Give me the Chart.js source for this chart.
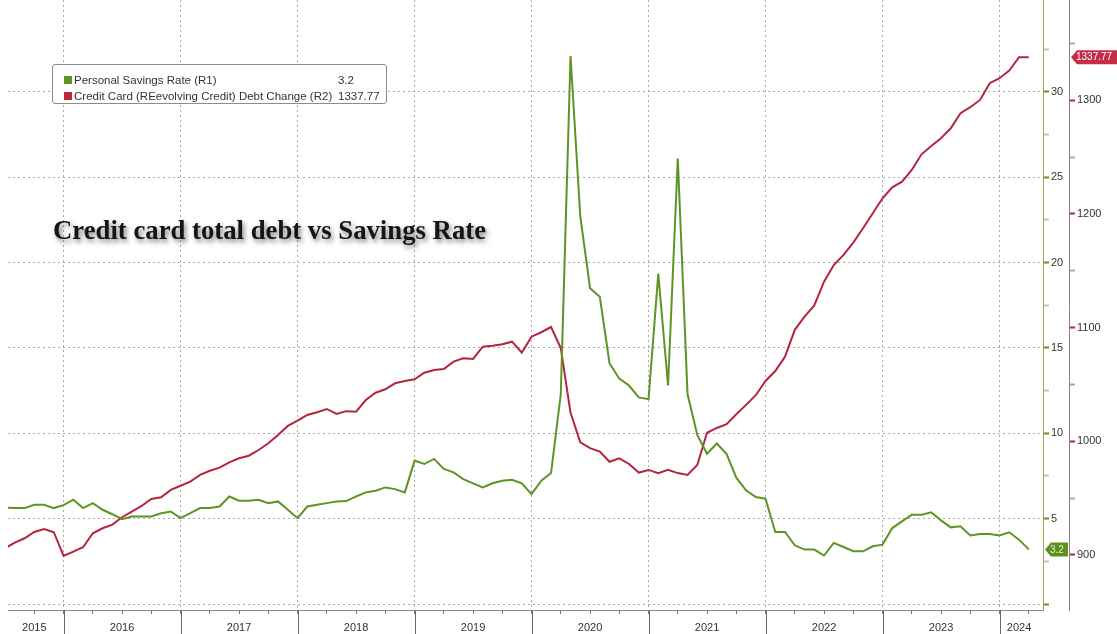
<!DOCTYPE html>
<html>
<head>
<meta charset="utf-8">
<script src="https://cdn.jsdelivr.net/npm/chart.js@4.4.1/dist/chart.umd.min.js"></script>
<style>
html,body{margin:0;padding:0;background:#fff}
#wrap{position:relative;width:1117px;height:634px;overflow:hidden}
#chart{position:absolute;left:0;top:0}
#title{position:absolute;left:53px;top:215px;font:bold 27px "Liberation Serif",serif;color:#151515;text-shadow:2px 3px 5px rgba(0,0,0,.5);white-space:nowrap;transform-origin:0 0}
#legend{position:absolute;left:52px;top:64px;width:333px;height:38px;border:1px solid #8c8c8c;border-radius:3px;background:#fff;font:11.5px "Liberation Sans",sans-serif;color:#333}
.row{position:absolute;left:0;height:14px;line-height:14px;white-space:nowrap}
.sw{position:absolute;left:11px;top:3px;width:8px;height:8px}
.lab{position:absolute;left:21px}
.val{position:absolute;left:285px}
</style>
</head>
<body>
<div id="wrap">
  <canvas id="chart" width="1117" height="634"></canvas>
  <div id="title">Credit card total debt vs Savings Rate</div>
  <div id="legend">
    <div class="row" style="top:8px"><span class="sw" style="background:#5f9424"></span><span class="lab">Personal Savings Rate (R1)</span><span class="val" id="v1"></span></div>
    <div class="row" style="top:24px"><span class="sw" style="background:#c0263f"></span><span class="lab">Credit Card (REevolving Credit) Debt Change (R2)</span><span class="val" id="v2"></span></div>
  </div>
</div>
<script>
// months after Jan 2015 of the first plotted point (month-end plotting)
const startMonth = 6

// Personal Savings Rate, % (R1)
const savingsRate = [
  5.65, 5.62, 5.62, 5.81, 5.81, 5.62,
  5.79, 6.11, 5.62, 5.91, 5.52, 5.26, 4.97, 5.13, 5.13, 5.13, 5.32, 5.42,
  5.03, 5.32, 5.62, 5.62, 5.71, 6.30, 6.05, 6.05, 6.11, 5.91, 6.01, 5.52,
  5.03, 5.71, 5.81, 5.91, 6.01, 6.03, 6.30, 6.54, 6.64, 6.83, 6.73, 6.54,
  8.40, 8.20, 8.50, 7.91, 7.71, 7.32, 7.07, 6.83, 7.07, 7.22, 7.28, 7.07,
  6.44, 7.22, 7.67, 12.3, 32.1, 22.7, 18.5, 18.0, 14.1, 13.2, 12.8, 12.1,
  12.0, 19.35, 12.8, 26.1, 12.3, 9.9, 8.8, 9.4, 8.8, 7.4, 6.66, 6.27,
  6.17, 4.22, 4.22, 3.44, 3.19, 3.19, 2.84, 3.58, 3.34, 3.09, 3.09, 3.38,
  3.48, 4.45, 4.84, 5.23, 5.23, 5.37, 4.90, 4.49, 4.55, 4.02, 4.10, 4.10,
  4.01, 4.20, 3.77, 3.2
]

// Credit card (revolving credit) debt, $bn (R2)
const revolvingCredit = [
  906, 910.8, 914.7, 920.2, 922.9, 920,
  899.1, 902.9, 906.8, 919.1, 923.5, 926.7, 933.2, 938.1, 943.1, 949.3, 950.7, 957.2,
  960.9, 964.5, 970.4, 974.1, 976.8, 981.5, 985, 987.3, 992.3, 998.2, 1005.5, 1013.5,
  1018.1, 1023.1, 1025.5, 1028.4, 1024, 1026.5, 1026, 1036.3, 1042.7, 1045.7, 1051, 1053,
  1054.5, 1060.3, 1062.7, 1063.6, 1070, 1073, 1072.4, 1083.2, 1084, 1085.3, 1087.6, 1078,
  1092, 1095.9, 1100.5, 1082, 1025, 999, 994, 990.9, 982, 985, 980, 972.5,
  974.8, 972, 974.8, 972, 970.4, 979.2, 1007.5, 1011.7, 1015, 1023.8, 1032, 1040.5,
  1053, 1061.8, 1074.4, 1098, 1109.6, 1119.5, 1140.4, 1155, 1163.9, 1174.7, 1187.3, 1200.5,
  1213.7, 1223.4, 1228.3, 1238.6, 1252.4, 1259.7, 1266.5, 1275.3, 1288.5, 1293.8, 1300.2, 1314.9,
  1319.3, 1326, 1337.77, 1337.77
]

const yearLabels = ['2015','2016','2017','2018','2019','2020','2021','2022','2023','2024']
const yearLabelAt = [9, 18, 30, 42, 54, 66, 78, 90, 102, 110]
const yearBoundaries = [12, 24, 36, 48, 60, 72, 84, 96, 108]
const quarterTicks = [9, 12, 15, 18, 21, 24, 27, 30, 33, 36, 39, 42, 45, 48, 51, 54, 57, 60, 63, 66, 69, 72, 75, 78, 81, 84, 87, 90, 93, 96, 99, 102, 105, 108, 110, 111]
const savingsTicks = [0, 2.5, 5, 7.5, 10, 12.5, 15, 17.5, 20, 22.5, 25, 27.5, 30, 32.5]
const creditTicks = [900, 950, 1000, 1050, 1100, 1150, 1200, 1250, 1300, 1350]

const GREEN = '#5f9424'
const RED = '#b3263f'
const GRID = '#a9a9a9'

const lastSav = savingsRate[savingsRate.length-1]
const lastCred = revolvingCredit[revolvingCredit.length-1]
document.getElementById('v1').textContent = String(lastSav)
document.getElementById('v2').textContent = lastCred.toFixed(2)

const toPoints = arr => arr.map((v,i) => ({x: startMonth + i, y: v}))
const setTicks = list => s => { s.ticks = list.map(v => ({value: v})) }

const yearSeparators = {
	id: 'yearSeparators',
	afterDraw(chart){
		const s = chart.scales.x, ctx = chart.ctx
		ctx.save(); ctx.strokeStyle = '#6a6a6a'; ctx.lineWidth = 1
		yearBoundaries.forEach(b => {
			const px = Math.round(s.getPixelForValue(b)) + 0.5
			ctx.beginPath(); ctx.moveTo(px, s.top); ctx.lineTo(px, s.bottom); ctx.stroke()
		})
		ctx.restore()
	}
}

function tag(ctx, tipX, right, y, color, text, textColor){
	const h = 14, bx = tipX + 6
	ctx.save()
	ctx.fillStyle = color
	ctx.beginPath()
	ctx.moveTo(tipX, y); ctx.lineTo(bx, y - h/2); ctx.lineTo(right, y - h/2)
	ctx.lineTo(right, y + h/2); ctx.lineTo(bx, y + h/2); ctx.closePath(); ctx.fill()
	ctx.fillStyle = textColor
	ctx.font = '10px "Liberation Sans", sans-serif'
	ctx.textBaseline = 'middle'; ctx.textAlign = 'left'
	ctx.fillText(text, bx - 1, y + 0.5)
	ctx.restore()
}

const lastValueTags = {
	id: 'lastValueTags',
	afterDraw(chart){
		const ctx = chart.ctx, g = chart.scales.y, r = chart.scales.y1
		tag(ctx, r.left + 2, 1117, r.getPixelForValue(lastCred), '#c42c48', lastCred.toFixed(2), '#fff')
		tag(ctx, g.left + 2, r.left - 1, g.getPixelForValue(lastSav), '#5b8f22', String(lastSav), '#e8f0c8')
	}
}

const tickFont = {family: '"Liberation Sans", sans-serif', size: 11}

new Chart(document.getElementById('chart').getContext('2d'), {
	type: 'line',
	data: {
		datasets: [
			{ label: 'Personal Savings Rate (R1)', data: toPoints(savingsRate), yAxisID: 'y', borderColor: GREEN, borderWidth: 2, pointRadius: 0, tension: 0 },
			{ label: 'Credit Card (REevolving Credit) Debt Change (R2)', data: toPoints(revolvingCredit), yAxisID: 'y1', borderColor: RED, borderWidth: 2, pointRadius: 0, tension: 0 }
		]
	},
	options: {
		responsive: false,
		animation: false,
		layout: { padding: { left: 8, top: 0, right: 0, bottom: 0 } },
		plugins: { legend: { display: false }, tooltip: { enabled: false } },
		scales: {
			x: {
				type: 'linear', position: 'bottom', min: 6.3, max: 112.46,
				afterBuildTicks: setTicks(quarterTicks),
				afterFit: s => { s.height = 24; s.paddingLeft = 0; s.paddingRight = 0 },
				ticks: { autoSkip: false, maxRotation: 0, padding: 7, color: '#333', font: tickFont,
					callback: v => { const i = yearLabelAt.indexOf(v); return i >= 0 ? yearLabels[i] : '' } },
				grid: { color: c => c.tick && c.tick.value % 12 === 0 ? GRID : 'transparent', tickLength: 4,
					tickColor: c => c.tick && c.tick.value % 3 === 0 ? '#777' : 'transparent' },
				border: { color: '#8a8a8a', dash: [2, 3] }
			},
			y: {
				position: 'right', weight: 0, min: -0.35, max: 35.38,
				afterBuildTicks: setTicks(savingsTicks),
				afterFit: s => { s.width = 26; s.paddingTop = 0; s.paddingBottom = 0 },
				ticks: { padding: 2, color: '#333', font: tickFont, callback: v => (v % 5 === 0 && v > 0) ? v : '' },
				grid: { color: c => c.tick && c.tick.value % 5 === 0 ? GRID : 'transparent', tickLength: 6, tickWidth: 2,
					tickColor: c => c.tick && c.tick.value % 5 === 0 ? GREEN : '#c3cc9a' },
				border: { color: '#9aab4c', dash: [2, 3] }
			},
			y1: {
				position: 'right', weight: 1, min: 851.6, max: 1388.1,
				afterBuildTicks: setTicks(creditTicks),
				afterFit: s => { s.width = 48; s.paddingTop = 0; s.paddingBottom = 0 },
				ticks: { padding: 2, color: '#333', font: tickFont, callback: v => v % 100 === 0 ? v : '' },
				grid: { drawOnChartArea: false, tickLength: 6, tickWidth: 2,
					tickColor: c => c.tick && c.tick.value % 100 === 0 ? RED : '#aaa' },
				border: { color: '#8f7d88' }
			}
		}
	},
	plugins: [yearSeparators, lastValueTags]
})

// squeeze the title to the reference width
const t = document.getElementById('title')
const w = t.getBoundingClientRect().width
t.style.transform = 'scaleX(' + (433 / w) + ')'
</script>
</body>
</html>
